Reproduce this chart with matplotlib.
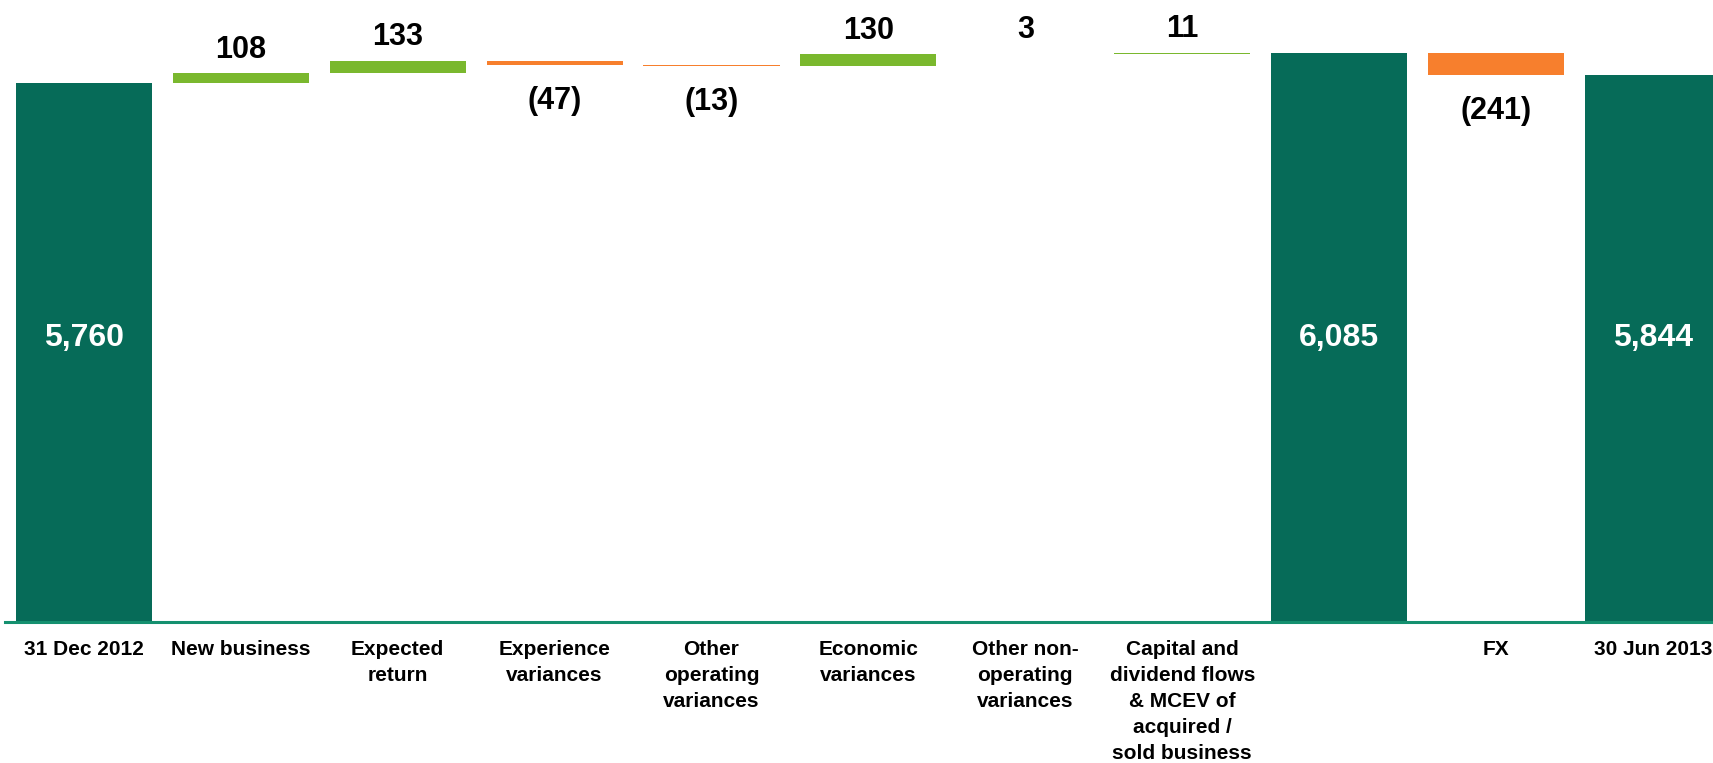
import matplotlib
matplotlib.use('Agg')
import matplotlib.pyplot as plt
from matplotlib.transforms import blended_transform_factory

# ---- data ----
categories = ['31 Dec 2012', 'New business', 'Expected\nreturn', 'Experience\nvariances',
              'Other\noperating\nvariances', 'Economic\nvariances',
              'Other non-\noperating\nvariances',
              'Capital and\ndividend flows\n& MCEV of\nacquired /\nsold business',
              '', 'FX', '30 Jun 2013']
start_value = 5760
changes_before = [108, 133, -47, -13, 130, 3, 11]
subtotal = 6085
changes_after = [-241]
end_value = 5844

# ---- style ----
DARK = '#066B58'
GREEN = '#7AB82E'
ORANGE = '#F77F2D'
AXIS = '#14906F'
FONT = ['Liberation Sans', 'DejaVu Sans']

plt.rcParams['font.family'] = FONT

fig = plt.figure(figsize=(17.13, 7.63), dpi=100)
ax = fig.add_axes([5 / 1713, 141 / 763, 1 - 5 / 1713, 1 - 141 / 763])

width = 0.867
blend = blended_transform_factory(ax.transData, ax.transAxes)

# build waterfall
items = []  # (kind, bottom, height, value)
items.append(('total', 0, start_value, start_value))
run = start_value
for c in changes_before:
    items.append(('delta', run, c, c))
    run += c
items.append(('total', 0, subtotal, subtotal))
run = subtotal
for c in changes_after:
    items.append(('delta', run, c, c))
    run += c
items.append(('total', 0, end_value, end_value))

for i, (kind, bottom, height, value) in enumerate(items):
    if kind == 'total':
        ax.bar(i, height, bottom=bottom, width=width, color=DARK, linewidth=0)
        ax.text(i, 0.457, f'{value:,}', transform=blend, ha='center', va='center',
                color='white', fontsize=23, fontweight='bold')
    else:
        col = GREEN if value > 0 else ORANGE
        ax.bar(i, height, bottom=bottom, width=width, color=col, linewidth=0)
        if value > 0:
            ax.annotate(f'{value}', (i, bottom + height), xytext=(0, 6),
                        textcoords='offset points', ha='center', va='bottom',
                        fontsize=22, fontweight='bold', color='black')
        else:
            ax.annotate(f'({abs(value)})', (i, bottom + height), xytext=(0, -15),
                        textcoords='offset points', ha='center', va='top',
                        fontsize=22, fontweight='bold', color='black')

ax.set_xlim(-0.503, 10.383)
ax.set_ylim(0, 6648)

ax.set_xticks(range(len(categories)))
ax.set_xticklabels(categories, fontsize=15, fontweight='bold', linespacing=1.47, va='top')
ax.tick_params(axis='x', length=0, pad=13)
ax.set_yticks([])

for s in ['top', 'left', 'right']:
    ax.spines[s].set_visible(False)
ax.spines['bottom'].set_color(AXIS)
ax.spines['bottom'].set_linewidth(2.2)

fig.savefig('out.png', dpi=100)
